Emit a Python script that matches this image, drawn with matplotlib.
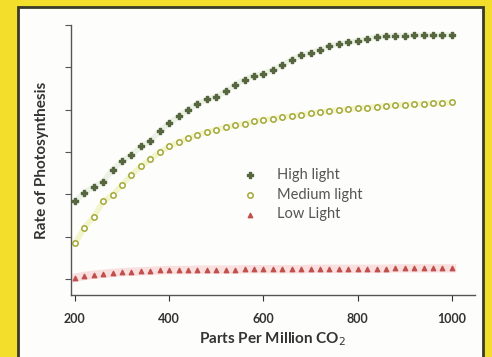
import matplotlib.pyplot as plt
from matplotlib.patches import Rectangle

ppm = list(range(200, 1001, 20))

high_light = [1.83, 2.04, 2.18, 2.30, 2.58, 2.78, 2.93, 3.13, 3.25, 3.49,
              3.68, 3.84, 4.00, 4.14, 4.24, 4.31, 4.43, 4.59, 4.71, 4.80,
              4.85, 4.94, 5.06, 5.18, 5.28, 5.34, 5.42, 5.50, 5.56, 5.59,
              5.62, 5.67, 5.72, 5.73, 5.75, 5.75, 5.76, 5.76, 5.76, 5.76,
              5.76]
medium_light = [0.84, 1.21, 1.47, 1.83, 1.99, 2.22, 2.46, 2.66, 2.83, 2.99,
                3.13, 3.23, 3.32, 3.40, 3.47, 3.53, 3.58, 3.63, 3.67, 3.72,
                3.76, 3.79, 3.82, 3.85, 3.88, 3.91, 3.94, 3.97, 3.99, 4.01,
                4.03, 4.05, 4.07, 4.09, 4.10, 4.12, 4.13, 4.14, 4.15, 4.16,
                4.17]
low_light = [0.03, 0.07, 0.10, 0.12, 0.14, 0.16, 0.17, 0.18, 0.19, 0.20,
             0.21, 0.21, 0.21, 0.22, 0.22, 0.22, 0.22, 0.22, 0.23, 0.23,
             0.23, 0.23, 0.23, 0.23, 0.23, 0.24, 0.24, 0.24, 0.24, 0.24,
             0.24, 0.24, 0.24, 0.24, 0.25, 0.25, 0.25, 0.25, 0.25, 0.25,
             0.25]

plt.rcParams['font.family'] = ['Lato', 'DejaVu Sans']

fig = plt.figure(figsize=(4.92, 3.57), dpi=100)
fig.patch.set_facecolor('#f4de2c')
# white panel with dark frame
fig.patches.append(Rectangle((18 / 492, -0.02), (483 - 18) / 492, (357 - 7) / 357 + 0.02,
                             transform=fig.transFigure, facecolor='#fdfdfb',
                             edgecolor='#3a3a2a', linewidth=2, zorder=-1))

ax = fig.add_axes([70.7 / 492, 1 - 295 / 357, (475 - 70.7) / 492, (295 - 25) / 357])
ax.set_facecolor('none')

# soft glow lines behind markers
ax.plot(ppm, high_light, color='#d4e0c4', lw=4, alpha=0.4, zorder=1)
ax.plot(ppm, medium_light, color='#e8ec9c', lw=4, alpha=0.5, zorder=1)
ax.plot(ppm, low_light, color='#f6c4c4', lw=6, alpha=0.5, zorder=1)

ax.scatter(ppm, high_light, marker='P', s=20, color='#56663e', label='High light', zorder=3)
ax.scatter(ppm, medium_light, marker='o', s=15, facecolor='white', edgecolor='#a4a838',
           linewidth=1.1, label='Medium light', zorder=3)
ax.scatter(ppm, low_light, marker='^', s=10, color='#c0504d', label='Low Light', zorder=3)

ax.set_xlim(191, 1049)
ax.set_ylim(-0.38, 6.0)
ax.set_xticks([200, 400, 600, 800, 1000])
ax.set_yticks(range(0, 7))
ax.set_yticklabels([])
ax.tick_params(axis='x', labelsize=9, colors='#333333', length=4, direction='out', pad=9)
ax.tick_params(axis='y', length=4, direction='out', colors='#555555')
for lbl in ax.get_xticklabels():
    lbl.set_fontweight('bold')
for s in ['top', 'right']:
    ax.spines[s].set_visible(False)
for s in ['left', 'bottom']:
    ax.spines[s].set_color('#555555')
    ax.spines[s].set_linewidth(1)

ax.set_xlabel('Parts Per Million CO$_2$', fontsize=11, fontweight='bold', color='#333333', labelpad=4)
ax.set_ylabel('Rate of Photosynthesis', fontsize=11, fontweight='bold', color='#333333', labelpad=8)

ax.legend(loc='upper left', bbox_to_anchor=(0.383, 0.52), frameon=False, fontsize=10.5,
          handlelength=1.5, handletextpad=1.1, labelspacing=0.4, labelcolor='#555555')

fig.savefig('out.png', dpi=100, facecolor=fig.get_facecolor())
